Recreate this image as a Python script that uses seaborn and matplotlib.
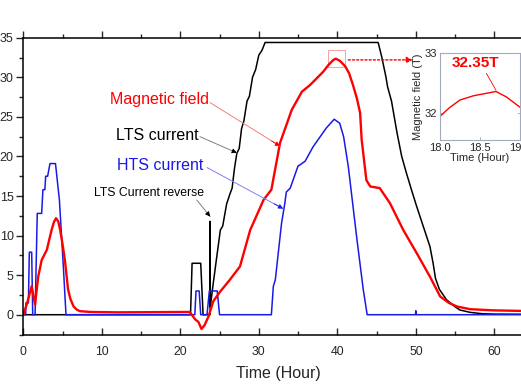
import pandas as pd
import matplotlib
matplotlib.use("Agg")
import matplotlib.pyplot as plt
from matplotlib.patches import Rectangle
from matplotlib.ticker import MultipleLocator
import seaborn as sns

# =======================
# DATA
# =======================
LTS_T = [0, 21.3, 21.5, 22.6, 22.9, 23.6, 23.8, 23.8, 23.82, 24.2, 24.6, 25.1, 25.4,
         25.9, 26.3, 26.6, 26.9, 27.2, 27.5, 27.8, 28.1, 28.5, 28.8, 29.2, 29.6,
         30.0, 30.4, 30.8, 45.2, 45.65, 46.2, 46.4, 46.9, 47.6, 48.2, 48.8, 49.5,
         50.1, 51.0, 51.8, 52.2, 52.5, 53.0, 53.9, 55.0, 55.6, 56.9, 58.5, 60.0, 65.0]
LTS_I = [0, 0, 6.5, 6.5, 0, 0, 0, 11.8, 1.0, 4.0, 7.0, 10.7, 11.2,
         14.0, 15.2, 16.0, 18.5, 20.4, 21.0, 23.5, 24.5, 27.0, 27.6, 30.0, 31.0,
         32.8, 33.4, 34.4, 34.4, 32.6, 30.0, 28.8, 27.0, 23.0, 20.0, 17.9, 15.6,
         13.7, 11.0, 8.6, 6.5, 4.6, 3.2, 1.9, 1.0, 0.6, 0.3, 0.12, 0.08, 0.05]

FIELD_T = [0, 0.5, 1.07, 1.5, 1.9, 2.34, 3.0, 3.6, 3.9, 4.17, 4.45, 4.7, 5.0, 5.3,
           5.7, 6.0, 6.4, 6.8, 7.2, 8.5, 12.0, 21.2, 21.9, 22.3, 22.7, 23.1, 23.6,
           24.2, 25.06, 26.3, 27.6, 28.9, 30.6, 31.6, 32.7, 34.2, 35.5, 36.5, 38.2,
           38.9, 39.5, 39.8, 40.3, 41.0, 41.5, 42.0, 42.5, 42.9, 43.1, 43.7, 44.2,
           45.4, 46.7, 48.4, 50.1, 51.8, 53.1, 54.2, 55.2, 56.9, 59.9, 65.0]
FIELD_B = [0, 1.5, 3.6, 1.3, 4.8, 6.9, 8.2, 10.7, 11.7, 12.2, 11.8, 10.7, 8.9, 6.9,
           3.2, 2.0, 1.05, 0.65, 0.45, 0.35, 0.3, 0.35, -0.6, -0.9, -1.8, -1.3, -0.2,
           1.7, 2.9, 4.4, 6.1, 10.7, 14.5, 15.8, 21.7, 25.9, 28.2, 29.0, 30.7,
           31.6, 32.2, 32.35, 32.1, 31.4, 30.5, 29.0, 27.3, 25.5, 22.1, 17.0, 16.2,
           16.0, 14.1, 10.7, 7.8, 4.8, 2.3, 1.5, 1.05, 0.7, 0.55, 0.45]

HTS_T = [0, 0.3, 0.34, 0.65, 0.77, 1.07, 1.2, 1.5, 1.78, 2.34, 2.5, 2.75, 2.85, 3.1,
         3.4, 4.1, 4.6, 5.1, 5.44, 21.85, 22.0, 22.4, 22.6, 23.4, 23.7, 24.7, 25.0,
         31.6, 31.85, 32.1, 32.9, 33.3, 33.5, 34.0, 35.0, 35.2, 35.9, 36.9, 38.6,
         39.6, 40.3, 40.8, 41.4, 42.5, 43.3, 43.8, 49.95, 50.0, 50.05, 65.0]
HTS_I = [0, 0, 1.5, 1.5, 7.9, 7.9, 0, 0, 12.8, 12.8, 15.8, 15.8, 17.5, 17.5,
         19.1, 19.1, 14.5, 6.1, 0, 0, 3.0, 3.0, 0, 0, 3.0, 3.0, 0,
         0, 3.6, 4.4, 11.6, 14.0, 15.5, 16.0, 18.8, 18.9, 19.4, 21.2, 23.6,
         24.7, 24.2, 22.5, 18.7, 9.5, 3.2, 0, 0, 0.5, 0, 0]

INSET_T = [18.0, 18.125, 18.25, 18.42, 18.58, 18.7, 18.83, 19.0]
INSET_B = [31.95, 32.1, 32.22, 32.29, 32.33, 32.36, 32.27, 32.1]

RED = "#ff0000"
BLUE = "#1a1ae6"


def main():
    sns.set_style("ticks")
    plt.rcParams["font.family"] = ["Liberation Sans", "DejaVu Sans"]

    fig = plt.figure(figsize=(5.21, 3.91), dpi=100)
    ax = fig.add_axes([0.0447, 0.1445, 0.9795, 0.759])

    lts = pd.DataFrame({"t": LTS_T, "v": LTS_I})
    field = pd.DataFrame({"t": FIELD_T, "v": FIELD_B})
    hts = pd.DataFrame({"t": HTS_T, "v": HTS_I})

    sns.lineplot(data=lts, x="t", y="v", ax=ax, color="black", lw=1.1,
                 estimator=None, sort=False)
    sns.lineplot(data=hts, x="t", y="v", ax=ax, color=BLUE, lw=1.1,
                 estimator=None, sort=False)
    sns.lineplot(data=field, x="t", y="v", ax=ax, color=RED, lw=1.7,
                 estimator=None, sort=False)

    ax.set_xlim(0, 65)
    ax.set_ylim(-2.5, 35)
    ax.xaxis.set_major_locator(MultipleLocator(10))
    ax.xaxis.set_minor_locator(MultipleLocator(5))
    ax.yaxis.set_major_locator(MultipleLocator(5))
    ax.yaxis.set_minor_locator(MultipleLocator(2.5))
    ax.set_xlabel("Time (Hour)", fontsize=11.5, labelpad=6)
    ax.set_ylabel("")

    for s in ax.spines.values():
        s.set_linewidth(1.1)
        s.set_color("black")
    ax.tick_params(axis="x", which="both", top=True, bottom=True, direction="in",
                   labelsize=8.8, pad=8, width=1)
    ax.tick_params(axis="x", which="major", length=5)
    ax.tick_params(axis="x", which="minor", length=3)
    ax.tick_params(axis="y", which="both", left=True, direction="out",
                   labelsize=9, pad=2, width=1)
    ax.tick_params(axis="y", which="major", length=5)
    ax.tick_params(axis="y", which="minor", length=3)
    # top ticks point outward
    for t in ax.xaxis.get_major_ticks() + ax.xaxis.get_minor_ticks():
        t.tick2line.set_marker(matplotlib.lines.TICKUP)

    # labels and arrows
    ax.text(17.35, 27.15, "Magnetic field", color=RED, fontsize=11.5,
            ha="center", va="center")
    ax.text(17.1, 22.7, "LTS current", color="black", fontsize=11.5,
            ha="center", va="center")
    ax.text(17.5, 18.9, "HTS current", color=BLUE, fontsize=11.5,
            ha="center", va="center")
    ax.text(15.95, 15.4, "LTS Current reverse", color="black", fontsize=8.8,
            ha="center", va="center")

    arrows = [((23.8, 26.8), (32.7, 21.3), "#f08080", RED),
              ((22.5, 22.5), (27.2, 20.45), "#808080", "black"),
              ((23.4, 18.6), (33.1, 13.4), "#8080f0", BLUE),
              ((22.1, 14.5), (23.8, 12.4), "#808080", "black")]
    for start, end, lc, hc in arrows:
        ax.annotate("", xy=end, xytext=start,
                    arrowprops=dict(arrowstyle="-", color=lc, lw=0.7,
                                    shrinkA=0, shrinkB=0))
        ax.annotate("", xy=end,
                    xytext=(end[0] - (end[0] - start[0]) * 0.12,
                            end[1] - (end[1] - start[1]) * 0.12),
                    arrowprops=dict(arrowstyle="-|>", color=hc, lw=0.6,
                                    mutation_scale=7, shrinkA=0, shrinkB=0))

    # zoom box and dotted arrow to the inset
    ax.add_patch(Rectangle((38.8, 31.3), 2.17, 2.2, fill=False,
                           edgecolor="#f5a0a0", lw=0.7))
    ax.annotate("", xy=(49.6, 32.2), xytext=(41.4, 32.2),
                arrowprops=dict(arrowstyle="-|>", color=RED, lw=1.0,
                                linestyle=(0, (1.5, 1.5)), mutation_scale=9,
                                shrinkA=0, shrinkB=0))

    # inset
    ins = fig.add_axes([0.8445, 0.642, 0.1536, 0.2232])
    inset = pd.DataFrame({"t": INSET_T, "v": INSET_B})
    sns.lineplot(data=inset, x="t", y="v", ax=ins, color=RED, lw=1.0,
                 estimator=None, sort=False)
    ins.set_xlim(18.0, 19.0)
    ins.set_ylim(31.56, 33)
    ins.set_xticks([18.0, 18.5, 19.0])
    ins.set_xticklabels(["18.0", "18.5", "19.0"])
    ins.set_yticks([32, 33])
    for s in ins.spines.values():
        s.set_color("#a3aabb")
        s.set_linewidth(0.8)
    ins.tick_params(which="both", direction="in", length=2, width=0.6,
                    labelsize=8, pad=2, color="#a3aabb", right=True,
                    labelright=True)
    ins.set_xlabel("Time (Hour)", fontsize=8, labelpad=0)
    ins.set_ylabel("Magnetic field (T)", fontsize=8, labelpad=1)
    ins.text(18.44, 32.83, "32.35T", color=RED, fontsize=11,
             fontweight="bold", ha="center", va="center")
    ins.annotate("", xy=(18.7, 32.38), xytext=(18.58, 32.66),
                 arrowprops=dict(arrowstyle="-", color=RED, lw=0.6,
                                 shrinkA=0, shrinkB=0))

    fig.savefig("out.png", dpi=100)
    plt.close(fig)


if __name__ == "__main__":
    main()
